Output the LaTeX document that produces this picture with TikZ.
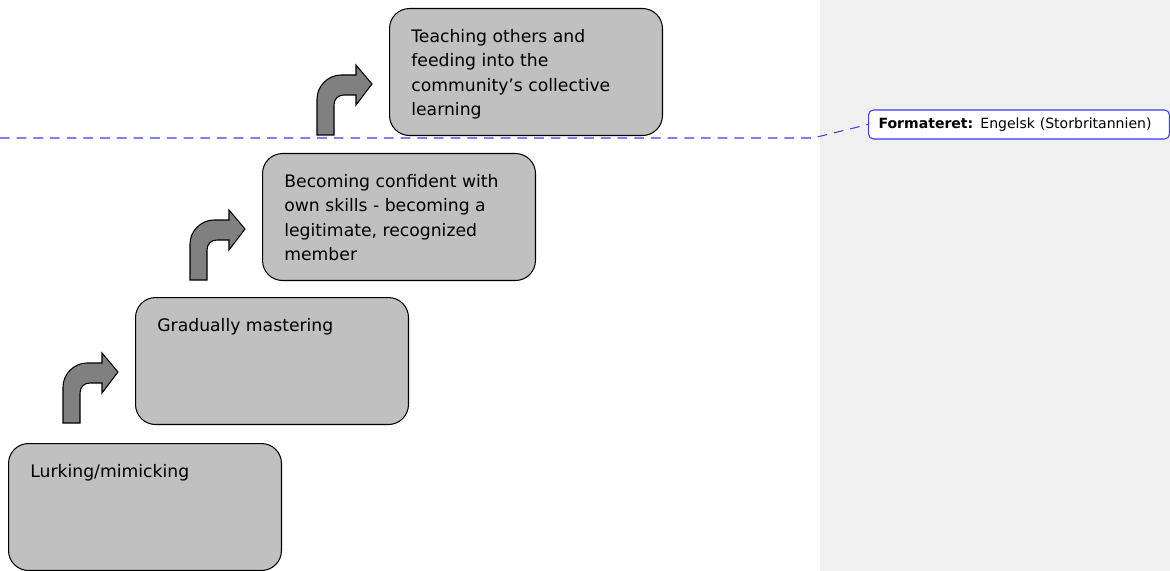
\documentclass[tikz,border=0pt]{standalone}
\usepackage{fontspec}
\setmainfont{DejaVu Sans}
\usetikzlibrary{positioning}
\definecolor{boxgray}{HTML}{C0C0C0}
\definecolor{arrowgray}{HTML}{808080}
\definecolor{panelgray}{HTML}{F0F0F0}
\definecolor{markblue}{HTML}{3C3CF0}
\tikzset{
  stepbox/.style={draw=black, line width=0.6pt, fill=boxgray, rounded corners=0.4cm,
    minimum width=5.46cm, minimum height=2.54cm, anchor=north west, inner sep=0pt},
  steptext/.style={anchor=north west, align=left, inner sep=0pt,
    font=\fontsize{9.8}{13.9}\selectfont},
  commentbox/.style={draw=markblue, line width=0.6pt, fill=white, rounded corners=0.1cm,
    anchor=west, minimum width=6.02cm, minimum height=0.58cm, inner xsep=0.2cm,
    text width=5.62cm, align=left, font=\fontsize{8}{10}\selectfont},
  markline/.style={draw=markblue, line width=0.6pt, dash pattern=on 5.5pt off 4pt},
  bentarrow/.pic={
    \draw[fill=arrowgray, line width=0.6pt, line join=miter]
      (0,0) -- (0,-36) .. controls (0,-49) and (11,-60) .. (24,-60)
      -- (39,-60) -- (39,-70) -- (55,-51) -- (39,-30) -- (39,-40) -- (27,-40)
      .. controls (21,-40) and (17,-36) .. (17,-30) -- (17,0) -- cycle;
  }
}
\begin{document}
\begin{tikzpicture}[x=0.02cm, y=-0.02cm]
\useasboundingbox (0,0) rectangle (1170,571);
\fill[panelgray] (820,0) rectangle (1170,571);

\node[stepbox] (lurk) at (8,443) {};
\node[stepbox] (master) at (135,297) {};
\node[stepbox] (confident) at (262,153) {};
\node[stepbox] (teaching) at (389,8) {};

\node[steptext] (lurktext) at ([shift={(22,21)}]lurk.north west) {Lurking/mimicking};
\node[steptext] (mastertext) at ([shift={(22,21)}]master.north west) {Gradually mastering};
\node[steptext] (confidenttext) at ([shift={(22,21)}]confident.north west)
  {Becoming confident with\\own skills - becoming a\\legitimate, recognized\\member};
\node[steptext] (teachingtext) at ([shift={(22,21)}]teaching.north west)
  {Teaching others and\\feeding into the\\community’s collective\\learning};

\pic at ([shift={(55,-20)}]lurk.north west) {bentarrow};
\pic at ([shift={(55,-17)}]master.north west) {bentarrow};
\pic at ([shift={(55,-18)}]confident.north west) {bentarrow};

\node[commentbox] (comment) at (868,124.5) {\textbf{Formateret:} Engelsk (Storbritannien)};
\coordinate (linestart) at (0,138);
\coordinate (linebend) at (813,138);
\draw[markline] (linestart) -- (linebend) -- (comment.west);
\end{tikzpicture}
\end{document}
